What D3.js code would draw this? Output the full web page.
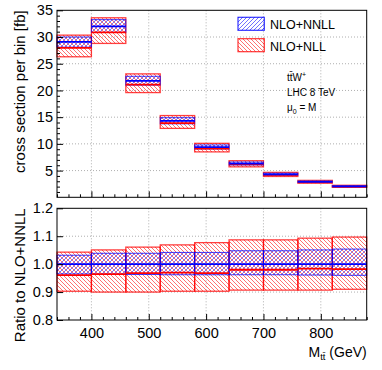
<!DOCTYPE html>
<html>
<head>
<meta charset="utf-8">
<script src="https://cdn.jsdelivr.net/npm/d3@7"></script>
<style>
body {margin: 0; background: #fff;}
svg {display: block; font-family: "Liberation Sans", Arial, sans-serif;}
</style>
</head>
<body>
<svg id="chart"></svg>
<script>
// bins in M_tt (GeV)
var binLow = [340, 400, 460, 520, 580, 640, 700, 760, 820];
var binHigh = [400, 460, 520, 580, 640, 700, 760, 820, 880];

// upper pad, cross section per bin [fb]
var nnllCentral = [29.1, 32.0, 21.8, 14.3, 9.4, 6.3, 4.3, 2.9, 2.05];
var nnllLow = [28.1, 30.85, 21.0, 13.75, 9.05, 6.06, 4.14, 2.79, 1.97];
var nnllHigh = [30.0, 33.25, 22.65, 14.9, 9.8, 6.6, 4.5, 3.05, 2.16];
var nllCentral = [27.95, 30.85, 21.1, 13.87, 9.1, 6.17, 4.21, 2.85, 2.01];
var nllLow = [26.3, 28.8, 19.6, 12.9, 8.5, 5.7, 3.9, 2.63, 1.87];
var nllHigh = [30.35, 33.6, 23.1, 15.3, 10.1, 6.85, 4.67, 3.17, 2.25];

// lower pad, ratio to NLO+NNLL
var nnllRatioCentral = [1, 1, 1, 1, 1, 1, 1, 1, 1];
var nnllRatioLow = [0.965, 0.964, 0.963, 0.962, 0.962, 0.962, 0.962, 0.961, 0.960];
var nnllRatioHigh = [1.032, 1.039, 1.039, 1.042, 1.042, 1.048, 1.048, 1.051, 1.054];
var nllRatioCentral = [0.961, 0.964, 0.968, 0.970, 0.968, 0.980, 0.980, 0.984, 0.982];
var nllRatioLow = [0.903, 0.900, 0.900, 0.903, 0.903, 0.907, 0.907, 0.907, 0.910];
var nllRatioHigh = [1.043, 1.051, 1.061, 1.069, 1.077, 1.087, 1.087, 1.093, 1.097];

// ticks
var xTicks = [400, 500, 600, 700, 800];
var upYTicks = [5, 10, 15, 20, 25, 30, 35];
var loYTicks = [0.8, 0.9, 1.0, 1.1, 1.2];

const chartW = 382,
    chartH = 370,
    frameL = 57,
    frameR = 366.7,
    upTop = 10.3,
    upBot = 197.3,
    loTop = 208.3,
    loBot = 320,
    red = "#ff0000",
    blue = "#0000ff";

var svg = d3.select("#chart")
    .attr("width", chartW)
    .attr("height", chartH);

// hatch patterns
var defs = svg.append("defs");
function hatch(id, color, forward) {
    var p = defs.append("pattern")
        .attr("id", id)
        .attr("patternUnits", "userSpaceOnUse")
        .attr("width", 4)
        .attr("height", 4);
    p.append("path")
        .attr("d", forward ? "M-1,1 L1,-1 M0,4 L4,0 M3,5 L5,3" : "M-1,3 L1,5 M0,0 L4,4 M3,-1 L5,1")
        .attr("stroke", color)
        .attr("stroke-opacity", 0.8)
        .attr("stroke-width", 0.7);
}
hatch("hatchBlue", blue, true);
hatch("hatchRed", red, false);

var xScale = d3.scaleLinear().domain([340, 880]).range([frameL, frameR]);
var yUp = d3.scaleLinear().domain([0, 35]).range([upBot, upTop]);
var yLo = d3.scaleLinear().domain([0.8, 1.2]).range([loBot, loTop]);

function drawPanel(yScale, top, bot, gridY, bands) {
    var g = svg.append("g");

    // dotted grid
    g.selectAll(".gx").data(xTicks).enter().append("line")
        .attr("x1", function(d) {return xScale(d);})
        .attr("x2", function(d) {return xScale(d);})
        .attr("y1", top).attr("y2", bot)
        .attr("stroke", "#9a9a9a").attr("stroke-width", 0.8)
        .attr("stroke-dasharray", "1,2");
    g.selectAll(".gy").data(gridY).enter().append("line")
        .attr("x1", frameL).attr("x2", frameR)
        .attr("y1", function(d) {return yScale(d);})
        .attr("y2", function(d) {return yScale(d);})
        .attr("stroke", "#9a9a9a").attr("stroke-width", 0.8)
        .attr("stroke-dasharray", "1,2");

    // bands first, central lines on top
    bands.forEach(function(b) {
        g.append("g").selectAll("rect").data(binLow).enter().append("rect")
            .attr("x", function(d) {return xScale(d);})
            .attr("width", function(d, i) {return xScale(binHigh[i]) - xScale(d);})
            .attr("y", function(d, i) {return yScale(b.high[i]);})
            .attr("height", function(d, i) {return yScale(b.low[i]) - yScale(b.high[i]);})
            .attr("fill", "url(#" + b.pattern + ")")
            .attr("stroke", b.color)
            .attr("stroke-opacity", 0.75)
            .attr("stroke-width", b.sw);
    });
    bands.forEach(function(b) {
        g.append("g").selectAll("line").data(binLow).enter().append("line")
            .attr("x1", function(d) {return xScale(d);})
            .attr("x2", function(d, i) {return xScale(binHigh[i]);})
            .attr("y1", function(d, i) {return yScale(b.central[i]);})
            .attr("y2", function(d, i) {return yScale(b.central[i]);})
            .attr("stroke", b.color)
            .attr("stroke-width", 1.8);
    });

    // frame
    g.append("rect")
        .attr("x", frameL).attr("y", top)
        .attr("width", frameR - frameL).attr("height", bot - top)
        .attr("fill", "none").attr("stroke", "#000").attr("stroke-width", 1);
}

var nllBand = {pattern: "hatchRed", color: red, sw: 1.3};
var nnllBand = {pattern: "hatchBlue", color: blue, sw: 1};

drawPanel(yUp, upTop, upBot, [5, 10, 15, 20, 25, 30], [
    Object.assign({low: nllLow, high: nllHigh, central: nllCentral}, nllBand),
    Object.assign({low: nnllLow, high: nnllHigh, central: nnllCentral}, nnllBand)
]);

drawPanel(yLo, loTop, loBot, [0.9, 1.0, 1.1], [
    Object.assign({low: nllRatioLow, high: nllRatioHigh, central: nllRatioCentral}, nllBand),
    Object.assign({low: nnllRatioLow, high: nnllRatioHigh, central: nnllRatioCentral}, nnllBand)
]);

// axes, ROOT style ticks inside the frame
var minorX = d3.range(340, 881, 20).filter(function(d) {return d % 100 !== 0;});
var minorUpY = d3.range(1, 35, 1).filter(function(d) {return d % 5 !== 0;});

function styleAxis(sel) {
    sel.select(".domain").remove();
    sel.selectAll("line").attr("stroke", "#000");
    sel.selectAll("text").attr("fill", "#000").style("font-size", "14.5px");
}

// upper pad
svg.append("g").attr("transform", "translate(" + frameL + ",0)")
    .call(d3.axisLeft(yUp).tickValues(upYTicks).tickSize(-6).tickPadding(4).tickFormat(d3.format("d")))
    .call(styleAxis);
svg.append("g").attr("transform", "translate(" + frameL + ",0)")
    .call(d3.axisLeft(yUp).tickValues(minorUpY).tickSize(-3).tickFormat(""))
    .call(styleAxis);
svg.append("g").attr("transform", "translate(0," + upBot + ")")
    .call(d3.axisBottom(xScale).tickValues(xTicks).tickSize(-6).tickFormat(""))
    .call(styleAxis);
svg.append("g").attr("transform", "translate(0," + upBot + ")")
    .call(d3.axisBottom(xScale).tickValues(minorX).tickSize(-3).tickFormat(""))
    .call(styleAxis);

// lower pad
svg.append("g").attr("transform", "translate(" + frameL + ",0)")
    .call(d3.axisLeft(yLo).tickValues(loYTicks).tickSize(-6).tickPadding(4).tickFormat(d3.format(".1f")))
    .call(styleAxis);
svg.append("g").attr("transform", "translate(0," + loBot + ")")
    .call(d3.axisBottom(xScale).tickValues(xTicks).tickSize(-6).tickPadding(8).tickFormat(d3.format("d")))
    .call(styleAxis);
svg.append("g").attr("transform", "translate(0," + loBot + ")")
    .call(d3.axisBottom(xScale).tickValues(minorX).tickSize(-3).tickFormat(""))
    .call(styleAxis);

// axis titles
svg.append("text")
    .attr("transform", "translate(25," + upTop + ") rotate(-90)")
    .attr("text-anchor", "end")
    .style("font-size", "15px")
    .text("cross section per bin [fb]");
svg.append("text")
    .attr("transform", "translate(25," + loTop + ") rotate(-90)")
    .attr("text-anchor", "end")
    .style("font-size", "15px")
    .text("Ratio to NLO+NNLL");
var xt = svg.append("text")
    .attr("x", frameR).attr("y", 356.5)
    .attr("text-anchor", "end")
    .style("font-size", "14px");
xt.append("tspan").text("M");
xt.append("tspan").attr("dy", 3).style("font-size", "9.5px").text("tt\u0304");
xt.append("tspan").attr("dy", -3).text(" (GeV)");

// legend
var legendItems = [
    {label: "NLO+NNLL", pattern: "hatchBlue", color: blue, y: 17.3},
    {label: "NLO+NLL", pattern: "hatchRed", color: red, y: 38.7}
];
var leg = svg.append("g");
leg.selectAll("rect").data(legendItems).enter().append("rect")
    .attr("x", 238).attr("y", function(d) {return d.y;})
    .attr("width", 26.3).attr("height", 13)
    .attr("fill", function(d) {return "url(#" + d.pattern + ")";})
    .attr("stroke", function(d) {return d.color;})
    .attr("stroke-opacity", 0.8)
    .attr("stroke-width", 1.2);
leg.selectAll("text").data(legendItems).enter().append("text")
    .attr("x", 270).attr("y", function(d) {return d.y + 12;})
    .style("font-size", "12.5px")
    .text(function(d) {return d.label;});

// process info
var info = svg.append("g").style("font-size", "10px");
var t1 = info.append("text").attr("x", 287).attr("y", 80.5);
t1.append("tspan").text("tt\u0304W");
t1.append("tspan").attr("dy", -4).style("font-size", "7px").text("+");
info.append("text").attr("x", 287).attr("y", 96).text("LHC 8 TeV");
var t3 = info.append("text").attr("x", 287).attr("y", 110.5);
t3.append("tspan").text("\u03bc");
t3.append("tspan").attr("dy", 3).style("font-size", "7px").text("0");
t3.append("tspan").attr("dy", -3).text(" = M");
</script>
</body>
</html>
